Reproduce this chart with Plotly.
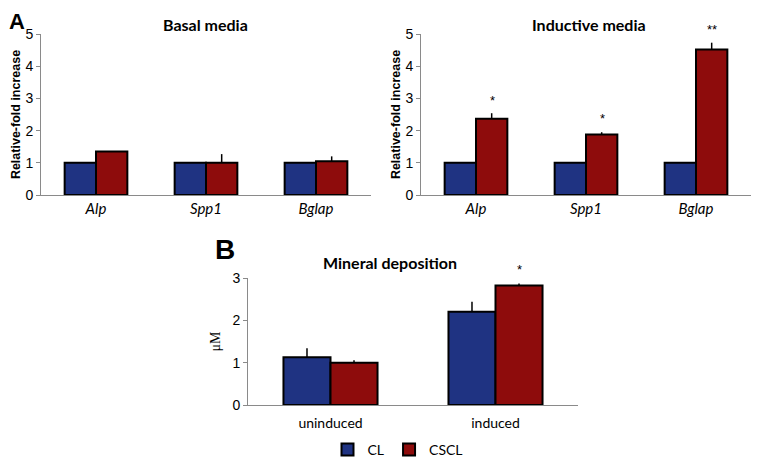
import plotly.graph_objects as go

genes = ["Alp", "Spp1", "Bglap"]
basal_cl = [1.0, 1.0, 1.0]
basal_cscl = [1.35, 1.0, 1.05]
basal_cscl_err = [0.0, 0.27, 0.15]
ind_cl = [1.0, 1.0, 1.0]
ind_cscl = [2.37, 1.88, 4.52]
ind_cscl_err = [0.17, 0.07, 0.21]
ind_stars = ["*", "*", "**"]
ind_star_y = [2.93, 2.38, 5.15]

conds = ["uninduced", "induced"]
min_cl = [1.13, 2.2]
min_cl_err = [0.21, 0.24]
min_cscl = [1.0, 2.82]
min_cscl_err = [0.06, 0.05]
min_stars = ["", "*"]
min_star_y = [0, 3.2]

BLUE = "#1F3382"
RED = "#8E0C0C"

# page body has an 8px margin; figure sized to fit the window
OFF = 8
W, H = 765 - OFF, 457 - OFF
def px(x):
    return (x - OFF) / W
def py(y):
    return 1 - (y - OFF) / H

fig = go.Figure()

def add_pair(xa, ya, cats, cl, cl_err, cscl, cscl_err, show):
    fig.add_trace(go.Bar(x=cats, y=cl, name="CL", marker=dict(color=BLUE, line=dict(color="black", width=2)),
                         error_y=dict(type="data", array=cl_err, arrayminus=[0]*len(cl), color="black", thickness=1.5, width=0, visible=cl_err is not None),
                         xaxis=xa, yaxis=ya, showlegend=show, legendgroup="CL"))
    fig.add_trace(go.Bar(x=cats, y=cscl, name="CSCL", marker=dict(color=RED, line=dict(color="black", width=2)),
                         error_y=dict(type="data", array=cscl_err, arrayminus=[0]*len(cscl), color="black", thickness=1.5, width=0),
                         xaxis=xa, yaxis=ya, showlegend=show, legendgroup="CSCL"))

add_pair("x", "y", genes, basal_cl, None, basal_cscl, basal_cscl_err, False)
add_pair("x2", "y2", genes, ind_cl, None, ind_cscl, ind_cscl_err, False)
add_pair("x3", "y3", conds, min_cl, min_cl_err, min_cscl, min_cscl_err, True)

tickf = dict(family="Liberation Sans, Arial", size=14, color="black")
catf = dict(family="Lato, Open Sans", size=15, color="black")
ax_common = dict(showline=True, linecolor="#8a8a8a", linewidth=1, showgrid=False, zeroline=False, automargin=False)
ytitlef = dict(family="Liberation Sans, Arial", size=12.5, color="black")

yA = [py(195), py(34)]
yB = [py(405), py(278)]
layout = dict(
    width=W, height=H, autosize=False,
    margin=dict(l=0, r=0, t=0, b=0, autoexpand=False),
    paper_bgcolor="white", plot_bgcolor="white",
    barmode="group", bargap=0.43, bargroupgap=0,
    xaxis=dict(domain=[px(41), px(371)], anchor="y", tickfont=dict(catf, style="italic"), ticks="", **ax_common),
    yaxis=dict(domain=yA, anchor="x", range=[0, 5], dtick=1, ticks="outside", ticklen=4, tickcolor="#8a8a8a",
               tickfont=tickf, title=dict(text="<b>Relative-fold increase</b>", font=ytitlef, standoff=2), **ax_common),
    xaxis2=dict(domain=[px(421), px(751)], anchor="y2", tickfont=dict(catf, style="italic"), ticks="", **ax_common),
    yaxis2=dict(domain=yA, anchor="x2", range=[0, 5], dtick=1, ticks="outside", ticklen=4, tickcolor="#8a8a8a",
                tickfont=tickf, title=dict(text="<b>Relative-fold increase</b>", font=ytitlef, standoff=2), **ax_common),
    xaxis3=dict(domain=[px(248), px(578)], anchor="y3", tickfont=dict(catf, size=14), ticks="", ticklabelstandoff=5, **ax_common),
    yaxis3=dict(domain=yB, anchor="x3", range=[0, 3], dtick=1, ticks="outside", ticklen=4, tickcolor="#8a8a8a",
                tickfont=tickf, title=dict(text="μM", font=dict(family="Liberation Serif, Times New Roman", size=14, color="black"), standoff=8), **ax_common),
    legend=dict(orientation="h", x=px(398), xanchor="center", y=py(450), yanchor="middle",
                font=dict(family="Lato, Open Sans", size=14, color="black"), itemwidth=30, tracegroupgap=0,
                bgcolor="rgba(0,0,0,0)"),
)
fig.update_layout(**layout)

ann = []
titlef = dict(family="Lato, Open Sans", size=16, color="black")
ann.append(dict(text="<b>Basal media</b>", x=205, y=25, xanchor="center", yanchor="middle", font=titlef))
ann.append(dict(text="<b>Inductive media</b>", x=589, y=25, xanchor="center", yanchor="middle", font=titlef))
ann.append(dict(text="<b>Mineral deposition</b>", x=390, y=262, xanchor="center", yanchor="middle", font=titlef))
ann.append(dict(text="<b>A</b>", x=8, y=8, xanchor="left", yanchor="top", borderpad=0,
                font=dict(family="Liberation Sans, Arial", size=22, color="black")))
ann.append(dict(text="<b>B</b>", x=225, y=249, xanchor="center", yanchor="middle",
                font=dict(family="Liberation Sans, Arial", size=28, color="black")))
for a in ann:
    a["xref"] = "paper"
    a["yref"] = "paper"
    a["showarrow"] = False
    a["x"] = px(a["x"])
    a["y"] = py(a["y"])

for g, s, yv in zip(genes, ind_stars, ind_star_y):
    ann.append(dict(text=s, x=g, y=yv / 5, xref="x2", yref="y2 domain", xshift=16, showarrow=False,
                    xanchor="center", yanchor="middle",
                    font=dict(family="Liberation Sans, Arial", size=13, color="black")))
for c, s, yv in zip(conds, min_stars, min_star_y):
    if s:
        ann.append(dict(text=s, x=c, y=yv / 3, xref="x3", yref="y3 domain", xshift=24, showarrow=False,
                        xanchor="center", yanchor="middle",
                        font=dict(family="Liberation Sans, Arial", size=13, color="black")))
fig.update_layout(annotations=ann)

fig.write_html("out.html")
